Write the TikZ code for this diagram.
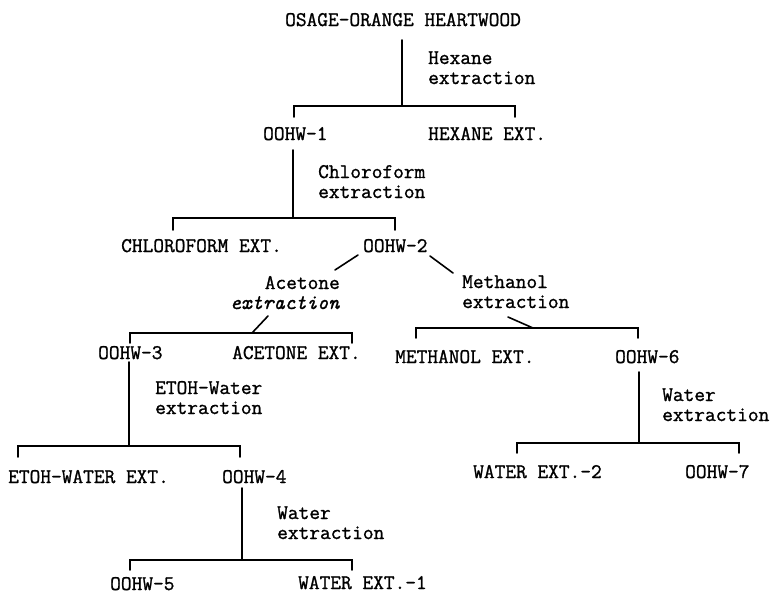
\documentclass[tikz,border=0pt]{standalone}
\usepackage{fontspec}
\newfontfamily\typew{Latin Modern Mono}[FakeBold=1.2]
\begin{document}
\begin{tikzpicture}[x=1pt,y=-1pt,
  lbl/.style={font=\typew\fontsize{20.8}{20}\selectfont, inner sep=0pt, anchor=base west},
  mlbl/.style={lbl, align=left},
  conn/.style={line width=1.6pt, line cap=round, line join=miter}]
\useasboundingbox (0,0) rectangle (771,595);

% ---- text nodes (two-line labels are placed at the baseline of their last line)
\node[lbl] (root) at (285,26) {OSAGE-ORANGE HEARTWOOD};
\node[mlbl] (hex) at (428,84) {Hexane\\extraction};
\node[lbl] (o1) at (263,140) {OOHW-1};
\node[lbl] (hexext) at (428,140) {HEXANE EXT.};
\node[mlbl] (chl) at (318,198) {Chloroform\\extraction};
\node[lbl] (chlext) at (121,252) {CHLOROFORM EXT.};
\node[lbl] (o2) at (363,252) {OOHW-2};
\node[lbl, align=right, anchor=base east] (ace) at (340,309) {Acetone\\\textit{extraction}};
\node[mlbl] (meth) at (462,308) {Methanol\\extraction};
\node[lbl] (o3) at (98,359) {OOHW-3};
\node[lbl] (aceext) at (232,359) {ACETONE EXT.};
\node[lbl] (methext) at (395,363) {METHANOL EXT.};
\node[lbl] (o6) at (615,363) {OOHW-6};
\node[mlbl] (etoh) at (155,414) {ETOH-Water\\extraction};
\node[lbl] (etohext) at (8,483) {ETOH-WATER EXT.};
\node[lbl] (o4) at (222,483) {OOHW-4};
\node[mlbl] (wat1) at (277,539) {Water\\extraction};
\node[lbl] (o5) at (110,590) {OOHW-5};
\node[lbl] (wext1) at (298,589) {WATER EXT.-1};
\node[mlbl] (wat2) at (662,421) {Water\\extraction};
\node[lbl] (wext2) at (473,478) {WATER EXT.-2};
\node[lbl] (o7) at (685,478) {OOHW-7};

% ---- junction coordinates
\coordinate (s1) at (402,40);  \coordinate (j1) at (402,106);
\coordinate (b1a) at (294,117); \coordinate (b1b) at (515,117);
\coordinate (s2) at (293,150); \coordinate (j2) at (293,218);
\coordinate (b2a) at (173,230); \coordinate (b2b) at (395,230);
\coordinate (d1a) at (358,255); \coordinate (d1b) at (335,270);
\coordinate (d2a) at (430,256); \coordinate (d2b) at (453,273);
\coordinate (s3) at (268,316); \coordinate (j3) at (252,333);
\coordinate (b3a) at (130,343); \coordinate (b3b) at (352,343);
\coordinate (s4) at (508,317); \coordinate (j4) at (533,328);
\coordinate (b4a) at (416,338); \coordinate (b4b) at (638,338);
\coordinate (s5) at (129,362); \coordinate (j5) at (129,446);
\coordinate (b5a) at (18,457); \coordinate (b5b) at (240,457);
\coordinate (s6) at (242,488); \coordinate (j6) at (242,560);
\coordinate (b6a) at (130,570); \coordinate (b6b) at (352,570);
\coordinate (s7) at (639,372); \coordinate (j7) at (639,443);
\coordinate (b7a) at (517,453); \coordinate (b7b) at (739,453);

% ---- connectors
\draw[conn] (s1) -- (j1);  \draw[conn] (b1a) |- (j1) -| (b1b);
\draw[conn] (s2) -- (j2);  \draw[conn] (b2a) |- (j2) -| (b2b);
\draw[conn] (d1a) -- (d1b);
\draw[conn] (d2a) -- (d2b);
\draw[conn] (s3) -- (j3);  \draw[conn] (b3a) |- (j3) -| (b3b);
\draw[conn] (s4) -- (j4);  \draw[conn] (b4a) |- (j4) -| (b4b);
\draw[conn] (s5) -- (j5);  \draw[conn] (b5a) |- (j5) -| (b5b);
\draw[conn] (s6) -- (j6);  \draw[conn] (b6a) |- (j6) -| (b6b);
\draw[conn] (s7) -- (j7);  \draw[conn] (b7a) |- (j7) -| (b7b);
\end{tikzpicture}
\end{document}
